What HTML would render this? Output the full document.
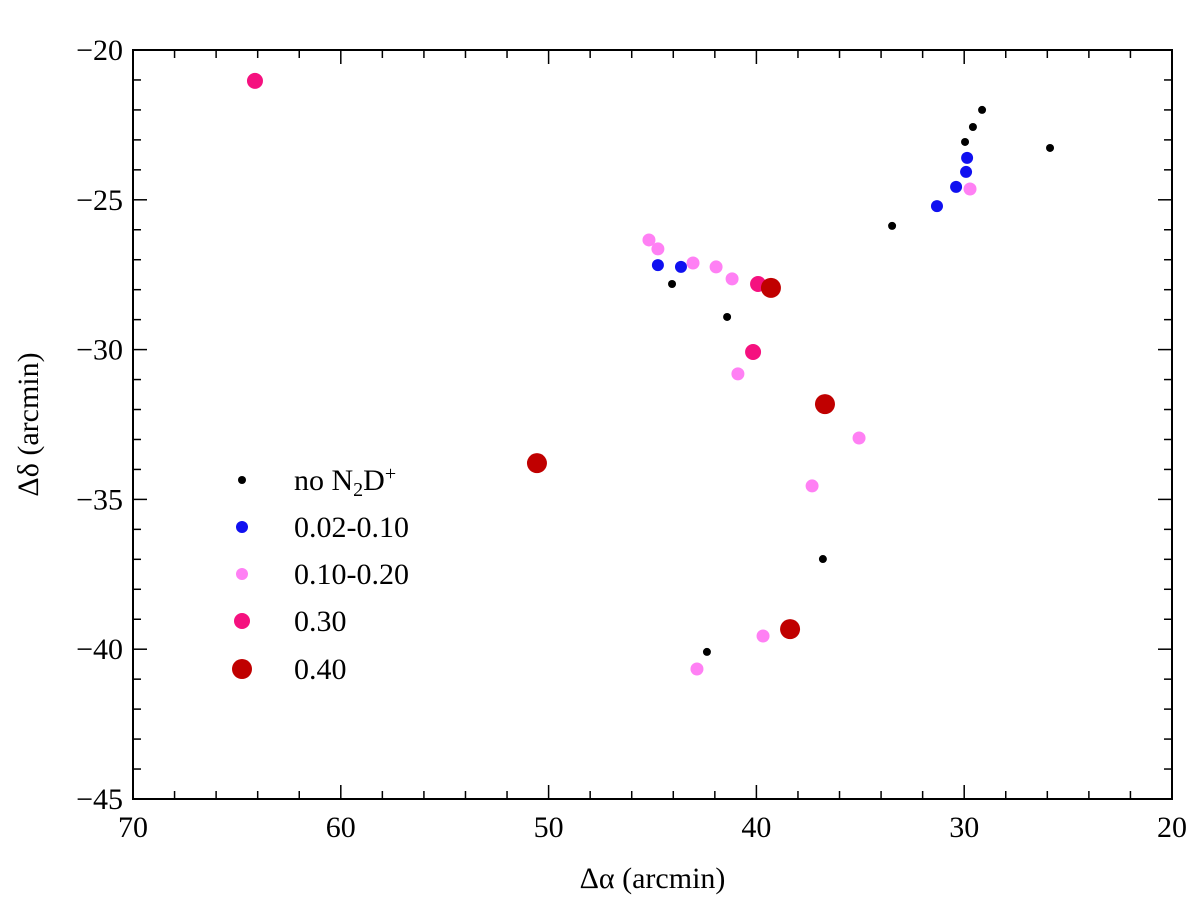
<!DOCTYPE html>
<html><head><meta charset="utf-8"><style>
body{margin:0;background:#fff;}
svg text{font-family:"Liberation Serif",serif;fill:#000;}
</style></head><body>
<svg id="chart" width="1200" height="917" xmlns="http://www.w3.org/2000/svg"></svg>
<script>
const xTicks=[70,60,50,40,30,20];
const yTicks=[-20,-25,-30,-35,-40,-45];
const blackX=[29.14,29.58,29.96,25.87,33.47,44.06,41.41,36.8,42.38];
const blackY=[-22.0,-22.57,-23.07,-23.27,-25.87,-27.81,-28.91,-36.99,-40.09];
const blueX=[29.86,29.91,30.39,31.31,44.74,43.63];
const blueY=[-23.60,-24.07,-24.57,-25.21,-27.18,-27.24];
const lpinkX=[29.72,45.17,44.74,43.05,41.94,41.17,40.89,35.06,37.32,39.68,42.86];
const lpinkY=[-24.64,-26.34,-26.64,-27.11,-27.24,-27.64,-30.81,-32.95,-34.55,-39.56,-40.66];
const hpinkX=[64.13,39.92,40.16];
const hpinkY=[-21.03,-27.81,-30.08];
const redX=[39.30,36.70,50.56,38.38];
const redY=[-27.94,-31.82,-33.79,-39.33];

const L=133,R=1172,T=50,B=799;
const sx=v=>L+(70-v)/50*(R-L);
const sy2=v=>T+(-20-v)/25*(B-T);
const svg=document.getElementById('chart');
const NS='http://www.w3.org/2000/svg';
function mk(t,a){const e=document.createElementNS(NS,t);for(const k in a)e.setAttribute(k,a[k]);svg.appendChild(e);return e;}

const frame=mk('rect',{x:L,y:T,width:R-L,height:B-T,fill:'none',stroke:'#000','stroke-width':2});



for(let v=70;v>=20;v-=2){
  const x=sx(v);const len=(v%10===0)?14:8;
  const t1=mk('line',{x1:x,y1:B,x2:x,y2:B-len,stroke:'#000','stroke-width':1.5});
  
  
  const t2=mk('line',{x1:x,y1:T,x2:x,y2:T+len,stroke:'#000','stroke-width':1.5});
  
  
}
for(let v=-20;v>=-45;v-=1){
  const y=sy2(v);const len=(v%5===0)?14:8;
  const t1=mk('line',{x1:L,y1:y,x2:L+len,y2:y,stroke:'#000','stroke-width':1.5});
  
  
  const t2=mk('line',{x1:R,y1:y,x2:R-len,y2:y,stroke:'#000','stroke-width':1.5});
  
  
}
xTicks.forEach(v=>{
  const t=mk('text',{x:sx(v),y:B+38,'font-size':30,'text-anchor':'middle'});
  t.textContent=v;
  
  
});
yTicks.forEach(v=>{
  const t=mk('text',{x:L-10,y:sy2(v)+10,'font-size':30,'text-anchor':'end'});
  t.textContent='\u2212'+Math.abs(v);
  
  
});
const xl=mk('text',{x:(L+R)/2,y:888,'font-size':30,'text-anchor':'middle'});
xl.textContent='\u0394\u03b1 (arcmin)';


const yl=mk('text',{x:0,y:0,'font-size':30,'text-anchor':'middle',transform:'translate(38,'+((T+B)/2)+') rotate(-90)'});
yl.textContent='\u0394\u03b4 (arcmin)';



function series(xs,ys,r,col,name){
  xs.forEach((v,i)=>{
    const c=mk('circle',{cx:sx(v),cy:sy2(ys[i]),r:r,fill:col});
    
    
  });
}
series(lpinkX,lpinkY,6.5,'#ff80f4','mid-0.10-0.20');
series(blueX,blueY,6,'#1010f0','low-0.02-0.10');
series(blackX,blackY,4,'#000','no-n2dp');
series(hpinkX,hpinkY,8,'#f5117f','ratio-0.30');
series(redX,redY,10,'#c00000','ratio-0.40');

const leg=[['no N\u2082D\u207a',4,'#000'],['0.02-0.10',6,'#1010f0'],['0.10-0.20',6,'#ff80f4'],['0.30',8,'#f5117f'],['0.40',10,'#c00000']];
const ly=[480,527,574,621,669];
leg.forEach((e,i)=>{
  const c=mk('circle',{cx:242,cy:ly[i],r:e[1],fill:e[2]});
  
  
  const t=mk('text',{x:294,y:ly[i]+10,'font-size':30});
  if(i===0){t.innerHTML='no N<tspan font-size="20" dy="6">2</tspan><tspan dy="-6">D</tspan><tspan font-size="20" dy="-10">+</tspan>';}
  else t.textContent=e[0];
  
  
});
</script>
</body></html>
